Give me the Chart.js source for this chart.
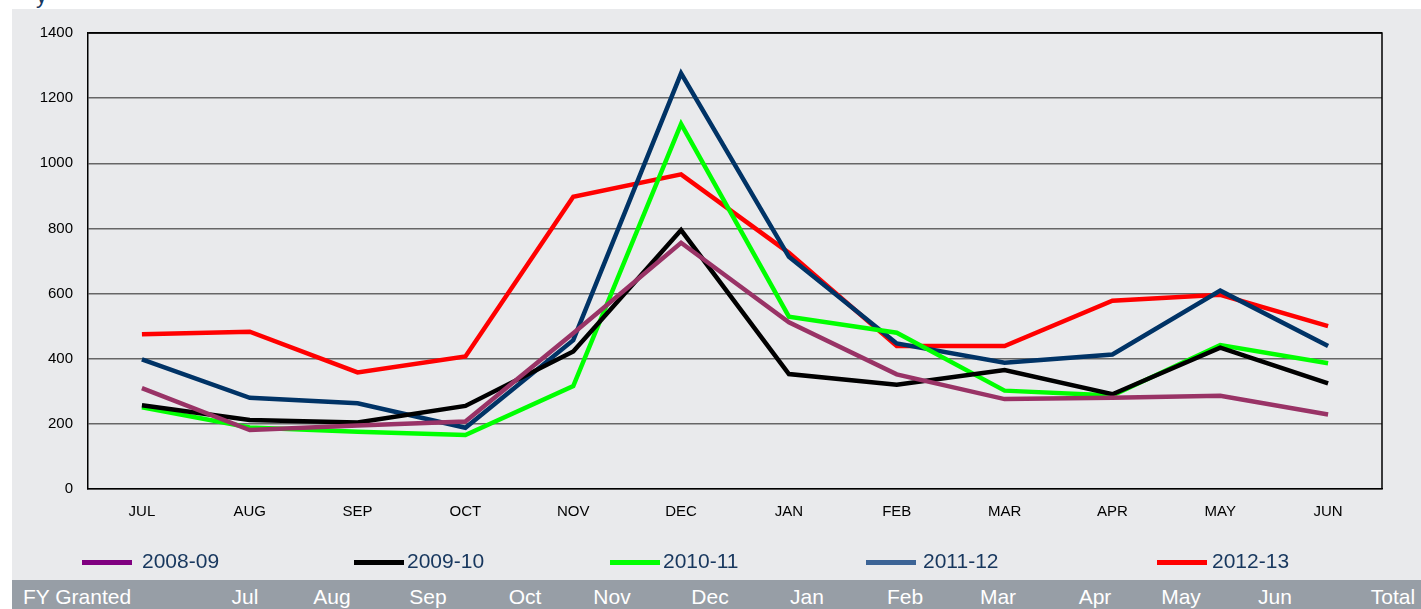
<!DOCTYPE html>
<html>
<head>
<meta charset="utf-8">
<script src="https://cdn.jsdelivr.net/npm/chart.js@4"></script>
<style>
  html, body { margin:0; padding:0; background:#ffffff; width:1421px; height:609px; overflow:hidden; font-family: "Liberation Sans", Arial, sans-serif; }
  #panel { position:absolute; left:12px; top:9px; width:1409px; height:571px; background:#e9eaec; }
  #wrap { position:absolute; left:0; top:0; width:1409px; height:571px; }
  #band { position:absolute; left:12px; top:580px; width:1409px; height:29px; background:#979ea6; }
  .bl { position:absolute; top:585px; color:#ffffff; font-size:21px; white-space:nowrap; transform:translateX(-50%); }
  .lg { position:absolute; top:549px; height:28px; font-size:21px; color:#17375e; white-space:nowrap; }
  .sw { position:absolute; height:5px; width:50px; top:560px; }
  #ttl { position:absolute; left:36px; top:-17px; color:#17375e; font-size:22px; }
</style>
</head>
<body>
<div id="ttl">y</div>
<div id="panel"><div id="wrap"><canvas id="c"></canvas></div></div>
<div id="band"></div>
<div id="legend"></div>
<div id="bandLabels"></div>
<script>
const categories = ["JUL","AUG","SEP","OCT","NOV","DEC","JAN","FEB","MAR","APR","MAY","JUN"];
const seriesNames = ["2008-09","2009-10","2010-11","2011-12","2012-13"];
const fy0809 = [310, 181, 195, 207, 478, 756, 512, 352, 276, 280, 286, 229];
const fy0910 = [257, 212, 204, 255, 422, 795, 353, 320, 365, 291, 434, 324];
const fy1011 = [251, 189, 176, 166, 316, 1121, 529, 480, 302, 287, 442, 386];
const fy1112 = [398, 280, 263, 188, 457, 1276, 713, 447, 388, 413, 609, 439];
const fy1213 = [475, 483, 358, 407, 897, 966, 725, 439, 439, 578, 596, 500];
const yTicks = [0, 200, 400, 600, 800, 1000, 1200, 1400];
const bandLabels = ["FY Granted","Jul","Aug","Sep","Oct","Nov","Dec","Jan","Feb","Mar","Apr","May","Jun","Total"];

const lineColors = ["#993366", "#000000", "#00ff00", "#003366", "#ff0000"];
const legendColors = ["#800080", "#000000", "#00ff00", "#3c6496", "#ff0000"];
const seriesData = [fy0809, fy0910, fy1011, fy1112, fy1213];

// legend (real text)
const legendSwatchX = [82, 354, 610, 866, 1157];
const legendTextX = [142, 407, 663, 923, 1212];
const lgDiv = document.getElementById('legend');
seriesNames.forEach((n, i) => {
  const s = document.createElement('div'); s.className = 'sw';
  s.style.left = legendSwatchX[i] + 'px'; s.style.background = legendColors[i];
  lgDiv.appendChild(s);
  const t = document.createElement('div'); t.className = 'lg';
  t.style.left = legendTextX[i] + 'px'; t.textContent = n;
  lgDiv.appendChild(t);
});

// bottom band labels
const bandX = [77, 245, 332, 428, 525, 612, 710, 807, 905, 998, 1095, 1181, 1275, 1393];
const bDiv = document.getElementById('bandLabels');
bandLabels.forEach((n, i) => {
  const t = document.createElement('div'); t.className = 'bl';
  t.style.left = bandX[i] + 'px'; t.textContent = n;
  bDiv.appendChild(t);
});

const frame = {
  id: 'frame',
  afterDatasetsDraw(chart) {
    const {ctx, chartArea: a} = chart;
    ctx.save();
    ctx.strokeStyle = '#000000';
    ctx.lineWidth = 1.5;
    ctx.beginPath();
    ctx.moveTo(a.left, a.top); ctx.lineTo(a.right, a.top); ctx.lineTo(a.right, a.bottom);
    ctx.stroke();
    ctx.restore();
  }
};

Chart.defaults.font.family = '"Liberation Sans", Arial, sans-serif';

new Chart(document.getElementById('c'), {
  type: 'line',
  data: {
    labels: categories,
    datasets: seriesNames.map((n, i) => ({
      label: n,
      data: seriesData[i],
      borderColor: lineColors[i],
      backgroundColor: lineColors[i],
      borderWidth: 4.5,
      pointRadius: 0,
      tension: 0,
      fill: false
    }))
  },
  options: {
    responsive: true,
    maintainAspectRatio: false,
    animation: false,
    layout: { padding: { top: 24, right: 39, left: 0, bottom: 0 } },
    plugins: { legend: { display: false }, tooltip: { enabled: false } },
    scales: {
      x: {
        offset: true,
        grid: { display: false, drawTicks: false },
        border: { display: true, color: '#000000', width: 1.5 },
        ticks: { color: '#000000', font: { size: 15 }, padding: 14, maxRotation: 0 },
        afterFit(s) { s.height = 91; }
      },
      y: {
        min: 0, max: 1400,
        afterBuildTicks(s) { s.ticks = yTicks.map(v => ({ value: v })); },
        grid: {
          drawTicks: false,
          color: (c) => (c.tick && c.tick.value === 1400) ? '#000000' : '#666666',
          lineWidth: 1.5
        },
        border: { display: true, color: '#000000', width: 1.5 },
        ticks: { color: '#000000', font: { size: 15 }, padding: 15, callback: (v) => String(v) },
        afterFit(s) { s.width = 76; }
      }
    }
  },
  plugins: [frame]
});
</script>
</body>
</html>
